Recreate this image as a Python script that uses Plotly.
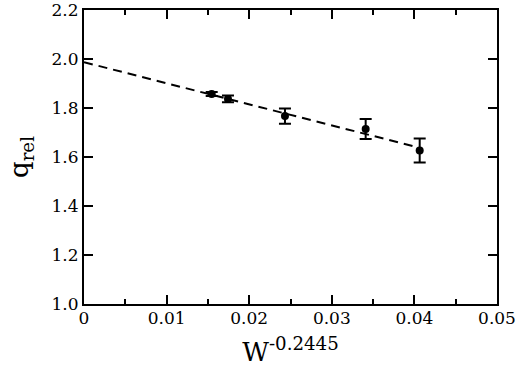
import plotly.graph_objects as go

x_vals = [0.01546, 0.01743, 0.02433, 0.0341, 0.04064]
q_vals = [1.857, 1.837, 1.767, 1.714, 1.627]
q_err = [0.008, 0.014, 0.031, 0.041, 0.049]

fit_x = [0.0, 0.0401]
fit_intercept = 1.987
fit_slope = -8.6
fit_y = [fit_intercept + fit_slope * v for v in fit_x]

x_ticks = [0, 0.01, 0.02, 0.03, 0.04, 0.05]
x_tick_labels = ["0", "0.01", "0.02", "0.03", "0.04", "0.05"]
y_ticks = [1.0, 1.2, 1.4, 1.6, 1.8, 2.0, 2.2]
y_tick_labels = ["1.0", "1.2", "1.4", "1.6", "1.8", "2.0", "2.2"]

fig = go.Figure()
fig.add_trace(go.Scatter(
    x=fit_x, y=fit_y, mode="lines",
    line=dict(color="black", width=2, dash="9px,6px"),
    hoverinfo="skip", showlegend=False))
fig.add_trace(go.Scatter(
    x=x_vals, y=q_vals, mode="markers",
    marker=dict(color="black", size=8, symbol="circle"),
    error_y=dict(type="data", array=q_err, visible=True, color="black", thickness=2, width=6),
    showlegend=False))

font_family = "DejaVu Serif"
axis_common = dict(
    showline=True, linecolor="black", linewidth=2, mirror="allticks",
    ticks="inside", ticklen=9, tickwidth=2, tickcolor="black",
    showgrid=False, zeroline=False, automargin=False,
    ticklabeloverflow="allow",
    tickfont=dict(family=font_family, size=17, color="black"),
)
fig.update_xaxes(
    range=[0, 0.05], tickvals=x_ticks, ticktext=x_tick_labels,
    ticklabelstandoff=-2,
    minor=dict(dtick=0.005, tick0=0, ticks="inside", ticklen=5, tickwidth=2, tickcolor="black", showgrid=False),
    title=dict(text="W<sup>-0.2445</sup>", font=dict(family=font_family, size=26, color="black")),
    **axis_common)
fig.update_yaxes(
    range=[1.0, 2.2], tickvals=y_ticks, ticktext=y_tick_labels,
    ticklabelstandoff=0,
    title=dict(text="q<sub>rel</sub>", font=dict(family=font_family, size=26, color="black")),
    **axis_common)
fig.update_layout(
    width=519, height=372,
    margin=dict(l=84, r=22, t=10, b=68),
    plot_bgcolor="white", paper_bgcolor="white",
    font=dict(family=font_family, color="black"),
)
fig.write_html("out.html", config={"displayModeBar": False},
               post_script="document.body.style.margin='0';document.body.style.padding='0';")
